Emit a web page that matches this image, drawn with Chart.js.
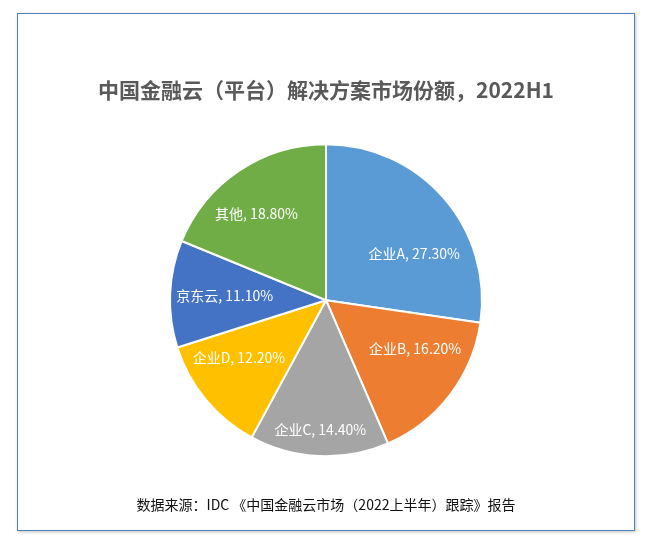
<!DOCTYPE html>
<html>
<head>
<meta charset="utf-8">
<script src="https://cdn.jsdelivr.net/npm/chart.js@4"></script>
<style>
  body { margin: 0; background: #fff; }
  #box {
    position: absolute; left: 17px; top: 13px; width: 616px; height: 516px;
    border: 1px solid #4f81bd; box-shadow: 1px 1px 3px rgba(0,0,0,0.25); background: #fff;
  }
</style>
</head>
<body>
<div id="box"><canvas id="pie-chart"></canvas></div>
<script>
const categories = ['企业A', '企业B', '企业C', '企业D', '京东云', '其他']
const shares = [27.3, 16.2, 14.4, 12.2, 11.1, 18.8]
const sliceColors = ['#5b9bd5', '#ed7d31', '#a5a5a5', '#ffc000', '#4472c4', '#70ad47']
// label placement inside each slice: share of radius, and turn (degrees) off the mid angle
const labelRadius = [0.64, 0.65, 0.83, 0.67, 0.65, 0.71]
const labelTurn = [13, -9, 0, 6, 0, -5]

const FONT = '"Noto Sans CJK SC", "Microsoft YaHei", sans-serif'

// draws "名称, xx.xx%" inside each slice
const sliceLabels = {
  id: 'sliceLabels',
  afterDatasetsDraw (chart) {
    const ctx = chart.ctx
    const meta = chart.getDatasetMeta(0)
    ctx.save()
    ctx.fillStyle = '#fff'
    ctx.font = '14px ' + FONT
    ctx.textAlign = 'center'
    ctx.textBaseline = 'middle'
    meta.data.forEach((arc, i) => {
      const { x, y, startAngle, endAngle, outerRadius } = arc.getProps(['x', 'y', 'startAngle', 'endAngle', 'outerRadius'], true)
      const mid = (startAngle + endAngle) / 2 + labelTurn[i] * Math.PI / 180
      const r = outerRadius * labelRadius[i]
      const text = categories[i] + ', ' + shares[i].toFixed(2) + '%'
      ctx.fillText(text, x + Math.cos(mid) * r, y + Math.sin(mid) * r)
    })
    ctx.restore()
  }
}

// eslint-disable-next-line no-unused-vars, no-undef
const chart = new Chart(document.querySelector('#pie-chart'), {
  type: 'pie',
  data: {
    labels: categories,
    datasets: [{
      data: shares,
      backgroundColor: sliceColors,
      borderColor: '#fff',
      borderWidth: 2
    }]
  },
  options: {
    responsive: true,
    maintainAspectRatio: false,
    animation: false,
    layout: { padding: 0 },
    plugins: {
      legend: { display: false },
      tooltip: { enabled: false },
      title: {
        display: true,
        text: '中国金融云（平台）解决方案市场份额，2022H1',
        color: '#595959',
        font: { family: FONT, size: 21, weight: 'bold' },
        padding: { top: 63, bottom: 41 }
      },
      subtitle: {
        display: true,
        position: 'bottom',
        text: '数据来源：IDC 《中国金融云市场（2022上半年）跟踪》报告',
        color: '#111',
        font: { family: FONT, size: 14 },
        padding: { top: 39, bottom: 17 }
      }
    }
  },
  plugins: [sliceLabels]
})
</script>
</body>
</html>
